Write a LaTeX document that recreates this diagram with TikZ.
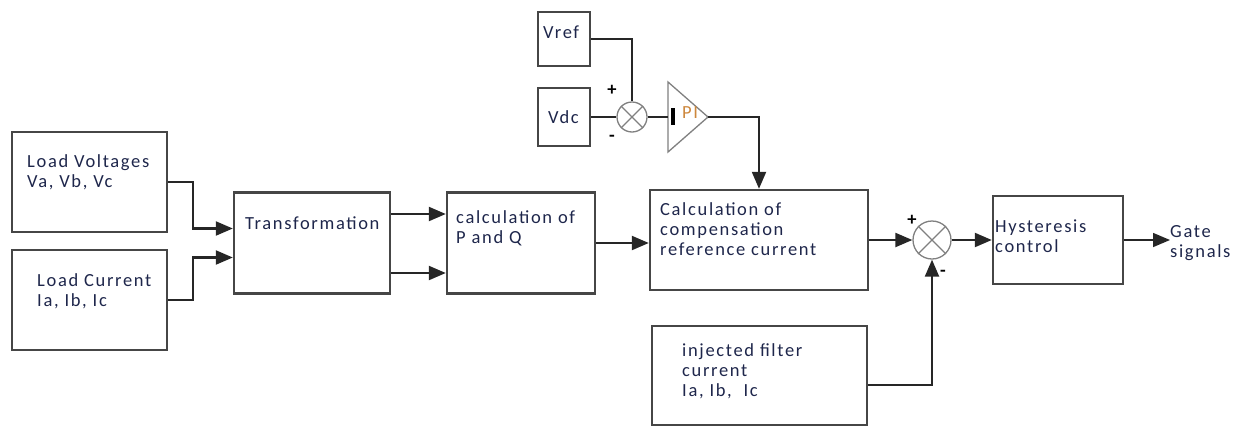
\documentclass[tikz,border=0pt]{standalone}
\usepackage{fontspec}
\setmainfont{Carlito}[LetterSpace=9]
\usetikzlibrary{arrows.meta}
\definecolor{txtcol}{RGB}{30,38,75}
\definecolor{picol}{RGB}{205,135,60}
\definecolor{bordcol}{RGB}{70,70,70}
\newcommand{\blocfont}{\fontsize{18.5}{20}\selectfont}

\begin{document}
\begin{tikzpicture}[x=1pt, y=-1pt,
    bloc/.style={draw=bordcol, line width=2.4pt, inner sep=0pt, rectangle},
    lbl/.style={anchor=north west, inner sep=0pt, align=left, text=txtcol, font=\blocfont},
    signe/.style={inner sep=0pt, text=black, font=\bfseries\blocfont},
    somme/.style={draw=gray, line width=1.3pt, circle, inner sep=0pt},
    fil/.style={draw=black!85, line width=2.2pt},
    fleche/.style={fil, -{Triangle[length=17pt, width=14pt]}}]
    \useasboundingbox (0,0) rectangle (1249,426);

    % Blocs
    \node[bloc, minimum width=155pt, minimum height=100pt] (lv) at (89.5,182) {};
    \node[bloc, minimum width=155pt, minimum height=100pt] (lc) at (89.5,300) {};
    \node[bloc, minimum width=156pt, minimum height=101pt] (tr) at (312,243) {};
    \node[bloc, minimum width=148pt, minimum height=101pt] (pq) at (521,243) {};
    \node[bloc, minimum width=218pt, minimum height=100pt] (cc) at (759,240) {};
    \node[bloc, minimum width=130pt, minimum height=88pt] (hy) at (1058,240) {};
    \node[bloc, minimum width=215pt, minimum height=99pt] (fi) at (759.5,375.5) {};
    \node[bloc, minimum width=52pt, minimum height=54pt] (vref) at (564,39) {};
    \node[bloc, minimum width=52pt, minimum height=58pt] (vdc) at (564,117) {};

    % Textes
    \node[lbl] (tlv) at (27,154) {Load Voltages\\Va, Vb, Vc};
    \node[lbl] (tlc) at (37,273) {Load Current\\Ia, Ib, Ic};
    \node[lbl] (ttr) at (245,217) {Transformation};
    \node[lbl] (tpq) at (456,210) {calculation of\\P and Q};
    \node[lbl] (tcc) at (660,202) {Calculation of\\compensation\\reference current};
    \node[lbl] (thy) at (995,220) {Hysteresis\\control};
    \node[lbl] (tfi) at (682,343) {injected filter\\current\\Ia, Ib,\ \ Ic};
    \node[lbl] (tvref) at (543,26) {Vref};
    \node[lbl] (tvdc) at (548,110) {Vdc};
    \node[lbl] (tgate) at (1170,225) {Gate\\signals};

    % Comparateurs
    \node[somme, minimum size=30pt] (s1) at (632,117) {};
    \node[somme, minimum size=38pt] (s2) at (932,240) {};
    \foreach \s in {s1,s2} {
        \draw[gray, line width=1.2pt] (\s.north west) -- (\s.south east);
        \draw[gray, line width=1.2pt] (\s.north east) -- (\s.south west);
    }
    \node[signe] (p1) at (612,90) {+};
    \node[signe] (m1) at (612,138) {-};
    \node[signe] (p2) at (912,220) {+};
    \node[signe] (m2) at (943,273) {-};

    % Regulateur PI
    \coordinate (piin) at (668,117);
    \coordinate (piout) at (708,117);
    \draw[gray, line width=1.3pt] (668,82) -- (piout) -- (668,152) -- cycle;
    \draw[black, line width=4pt] (673,108) -- (673,125);
    \node[lbl, text=picol] (tpi) at (682,106) {PI};

    % Liaisons
    \draw[fleche] (lv.east) -- ++(25,0) |- ([yshift=14.5pt]tr.west);
    \draw[fleche] (lc.east) -- ++(25,0) |- ([yshift=-14.5pt]tr.west);
    \draw[fleche] ([yshift=29pt]tr.east) -- ([yshift=29pt]pq.west);
    \draw[fleche] ([yshift=-30pt]tr.east) -- ([yshift=-30pt]pq.west);
    \draw[fleche] (pq.east) -- (pq.east -| cc.west);
    \draw[fil] (vref.east) -| (s1.north);
    \draw[fil] (vdc.east) -- (s1.west);
    \draw[fil] (s1.east) -- (piin);
    \draw[fleche] (piout) -| (cc.north);
    \draw[fleche] (cc.east) -- (s2.west);
    \draw[fleche] (s2.east) -- (hy.west);
    \draw[fleche] ([yshift=-9.5pt]fi.east) -| (s2.south);
    \draw[fleche, line width=1.5pt] (hy.east) -- (hy.east -| tgate.west);
\end{tikzpicture}
\end{document}
